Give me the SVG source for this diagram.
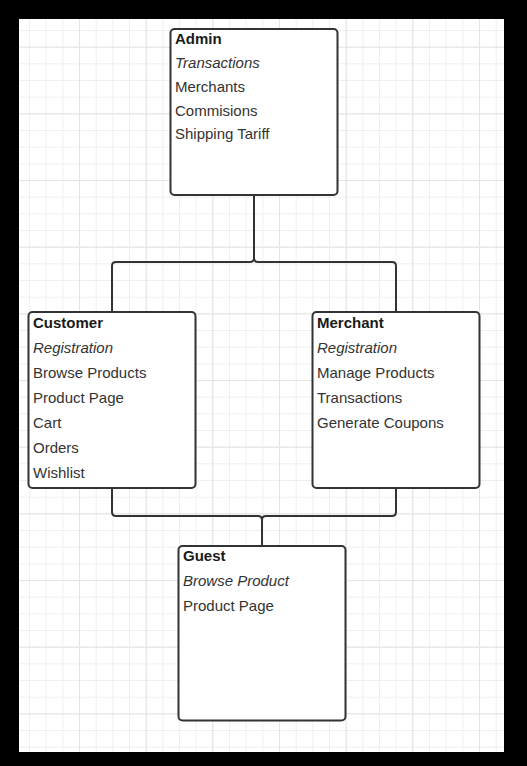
<svg xmlns="http://www.w3.org/2000/svg" width="527" height="766" viewBox="0 0 527 766">
<defs>
<pattern id="minor" x="12.33" y="46.67" width="16.667" height="16.667" patternUnits="userSpaceOnUse">
<path d="M0,0.5 H16.667 M0.5,0 V16.667" stroke="#efefef" stroke-width="1" fill="none"/>
</pattern>
<pattern id="major" x="12.33" y="46.67" width="66.667" height="66.667" patternUnits="userSpaceOnUse">
<path d="M0,0.5 H66.667 M0.5,0 V66.667" stroke="#e4e4e4" stroke-width="1" fill="none"/>
</pattern>
<style>
.box{fill:#ffffff;stroke:#333333;stroke-width:2}
.t{font-family:"Liberation Sans",Arial,sans-serif;font-size:15px;fill:#333333}
.h{font-weight:bold;fill:#1a1a1a}
.i{font-style:italic}
.conn{fill:none;stroke:#333333;stroke-width:2}
</style>
</defs>
<rect x="0" y="0" width="527" height="766" fill="#000000"/>
<rect x="19" y="19" width="485" height="733" fill="#ffffff"/>
<rect x="19" y="19" width="485" height="733" fill="url(#minor)"/>
<rect x="19" y="19" width="485" height="733" fill="url(#major)"/>

<g id="connectors">
<path class="conn" d="M254,196 V258 Q254,262 250,262 H116 Q112,262 112,266 V312"/>
<path class="conn" d="M254,258 Q254,262 258,262 H392 Q396,262 396,266 V312"/>
<path class="conn" d="M112,488 V512 Q112,516 116,516 H258 Q262,516 262,520 V546"/>
<path class="conn" d="M396,488 V512 Q396,516 392,516 H266 Q262,516 262,520"/>
</g>

<g id="admin">
<rect class="box" x="170.5" y="29" width="167" height="166" rx="4"/>
<text class="t h" x="175" y="44">Admin</text>
<text class="t i" x="175" y="68">Transactions</text>
<text class="t" x="175" y="92">Merchants</text>
<text class="t" x="175" y="116">Commisions</text>
<text class="t" x="175" y="139">Shipping Tariff</text>
</g>

<g id="customer">
<rect class="box" x="28.5" y="312" width="167" height="176" rx="4"/>
<text class="t h" x="33" y="328">Customer</text>
<text class="t i" x="33" y="353">Registration</text>
<text class="t" x="33" y="378">Browse Products</text>
<text class="t" x="33" y="403">Product Page</text>
<text class="t" x="33" y="428">Cart</text>
<text class="t" x="33" y="453">Orders</text>
<text class="t" x="33" y="478">Wishlist</text>
</g>

<g id="merchant">
<rect class="box" x="312.5" y="312" width="167" height="176" rx="4"/>
<text class="t h" x="317" y="328">Merchant</text>
<text class="t i" x="317" y="353">Registration</text>
<text class="t" x="317" y="378">Manage Products</text>
<text class="t" x="317" y="403">Transactions</text>
<text class="t" x="317" y="428">Generate Coupons</text>
</g>

<g id="guest">
<rect class="box" x="178.5" y="546" width="167" height="174.5" rx="4"/>
<text class="t h" x="183" y="561">Guest</text>
<text class="t i" x="183" y="586">Browse Product</text>
<text class="t" x="183" y="611">Product Page</text>
</g>
</svg>
